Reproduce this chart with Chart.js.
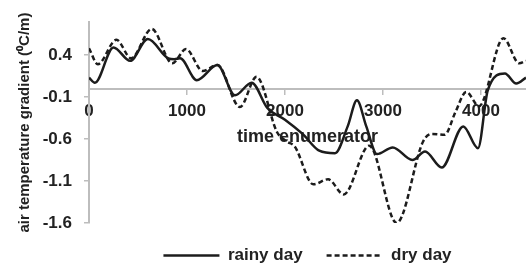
<!DOCTYPE html>
<html>
<head>
<meta charset="utf-8">
<script src="https://cdn.jsdelivr.net/npm/chart.js@4.4.1/dist/chart.umd.min.js"></script>
<style>
html, body { margin: 0; padding: 0; background: #fff; }
#wrap { width: 526px; height: 265px; }
</style>
</head>
<body>
<div id="wrap"><canvas id="chart"></canvas></div>
<script>
// valores (eixo x = time enumerator)
var rainyX = [0, 60, 250, 420, 600, 810, 870, 930, 1100, 1310, 1490, 1660, 1820, 2000, 2180, 2350, 2510, 2640, 2735, 2830, 2940, 3100, 3300, 3430, 3600, 3820, 3970, 4070, 4245, 4360, 4460];
var rainyY = [0.13, 0.07, 0.49, 0.33, 0.59, 0.36, 0.35, 0.36, 0.10, 0.28, -0.08, 0.07, -0.23, -0.37, -0.54, -0.74, -0.77, -0.45, -0.14, -0.45, -0.78, -0.70, -0.85, -0.75, -0.94, -0.45, -0.71, -0.02, 0.18, 0.06, 0.13];

var dryX = [0, 90, 280, 430, 640, 850, 990, 1160, 1310, 1540, 1710, 1920, 2020, 2100, 2290, 2440, 2600, 2860, 3140, 3410, 3500, 3630, 3740, 3850, 3980, 4230, 4390, 4460];
var dryY = [0.48, 0.29, 0.58, 0.36, 0.71, 0.30, 0.47, 0.21, 0.28, -0.22, 0.14, -0.52, -0.63, -0.69, -1.14, -1.08, -1.26, -0.68, -1.60, -0.63, -0.54, -0.55, -0.28, -0.04, -0.21, 0.60, 0.30, 0.33];

var xTicks = [0, 1000, 2000, 3000, 4000];
var yTicks = [-1.6, -1.1, -0.6, -0.1, 0.4];

function pts(xs, ys) {
    return xs.map(function (x, i) { return { x: x, y: ys[i] }; });
}

var txt = '#222';
var axisGray = '#bdbdbd';
var fontFam = '"Liberation Sans", Arial, sans-serif';

var ctx = document.getElementById('chart').getContext('2d');
var chart = new Chart(ctx, {
    type: 'line',
    data: {
        datasets: [
            {
                label: 'rainy day',
                data: pts(rainyX, rainyY),
                borderColor: '#1c1c1c',
                backgroundColor: '#1c1c1c',
                borderWidth: 2.5,
                pointRadius: 0,
                pointStyle: 'line',
                cubicInterpolationMode: 'monotone'
            },
            {
                label: 'dry day',
                data: pts(dryX, dryY),
                borderColor: '#1c1c1c',
                backgroundColor: '#1c1c1c',
                borderWidth: 2.5,
                borderDash: [5, 3],
                pointRadius: 0,
                pointStyle: 'line',
                cubicInterpolationMode: 'monotone'
            }
        ]
    },
    options: {
        responsive: true,
        maintainAspectRatio: false,
        animation: false,
        layout: { padding: { top: 15, right: 0, left: 0, bottom: -9 } },
        plugins: {
            tooltip: { enabled: false },
            legend: {
                position: 'bottom',
                fullSize: false,
                labels: {
                    usePointStyle: true,
                    pointStyleWidth: 56,
                    padding: 24,
                    color: txt,
                    font: { family: fontFam, size: 17, weight: 'bold' },
                    generateLabels: function (c) {
                        var items = Chart.defaults.plugins.legend.labels.generateLabels(c);
                        items.forEach(function (it) {
                            it.lineDash = c.data.datasets[it.datasetIndex].borderDash || [];
                        });
                        return items;
                    }
                }
            }
        },
        scales: {
            x: {
                type: 'linear',
                position: { y: 0 },
                min: 0,
                max: 4460,
                afterBuildTicks: function (s) { s.ticks = xTicks.map(function (v) { return { value: v }; }); },
                ticks: {
                    color: txt,
                    padding: 8,
                    maxRotation: 0,
                    font: { family: fontFam, size: 17, weight: 'bold' },
                    callback: function (v) { return String(v); }
                },
                grid: { display: true, drawOnChartArea: false, tickLength: 5, color: axisGray, lineWidth: 1.5 },
                border: { color: axisGray, width: 2 },
                title: {
                    display: true,
                    text: 'time enumerator',
                    color: txt,
                    padding: { top: -4, bottom: 0 },
                    font: { family: fontFam, size: 18, weight: 'bold' }
                }
            },
            y: {
                min: -1.6,
                max: 0.79,
                afterBuildTicks: function (s) { s.ticks = yTicks.map(function (v) { return { value: v }; }); },
                afterFit: function (s) { s.width = 89; },
                ticks: {
                    color: txt,
                    padding: 12,
                    font: { family: fontFam, size: 17, weight: 'bold' },
                    callback: function (v) { return v.toFixed(1); }
                },
                grid: { display: true, drawOnChartArea: false, tickLength: 5, color: axisGray, lineWidth: 1.5 },
                border: { color: axisGray, width: 2 },
                title: {
                    display: true,
                    text: 'air temperature gradient (⁰C/m)',
                    color: txt,
                    padding: { top: 16, bottom: 0 },
                    font: { family: fontFam, size: 15, weight: 'bold' }
                }
            }
        }
    }
});
</script>
</body>
</html>
